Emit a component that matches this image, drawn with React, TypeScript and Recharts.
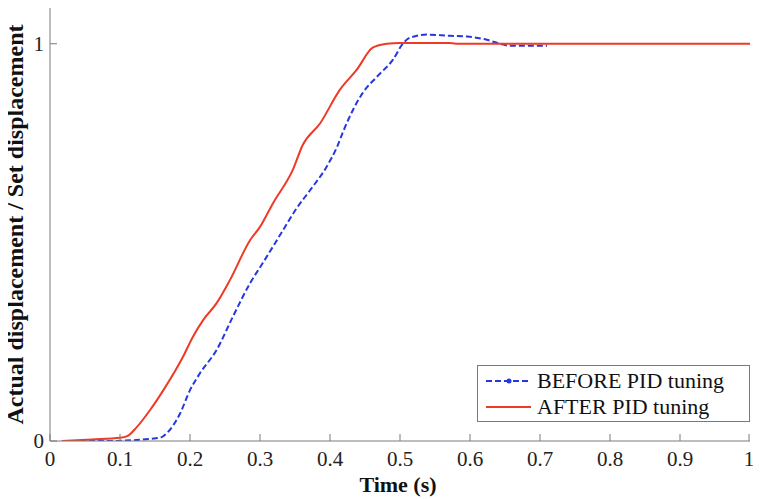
import { LineChart, Line, XAxis, YAxis } from 'recharts';

// time (s) / normalised displacement
const beforeTime = [0.017, 0.08, 0.157, 0.167, 0.186, 0.2, 0.214, 0.238, 0.261, 0.286, 0.304, 0.333, 0.352, 0.371, 0.395, 0.41, 0.419, 0.447, 0.467, 0.49, 0.504, 0.514, 0.538, 0.571, 0.596, 0.624, 0.643, 0.657, 0.71];
const beforeValue = [0, 0, 0.008, 0.02, 0.07, 0.128, 0.17, 0.229, 0.312, 0.398, 0.448, 0.531, 0.585, 0.63, 0.69, 0.74, 0.78, 0.877, 0.917, 0.96, 1.0, 1.015, 1.023, 1.02, 1.018, 1.01, 1.0, 0.995, 0.995];

const afterTime = [0.017, 0.06, 0.1, 0.111, 0.123, 0.143, 0.162, 0.19, 0.204, 0.219, 0.238, 0.257, 0.286, 0.3, 0.319, 0.347, 0.361, 0.386, 0.414, 0.438, 0.461, 0.481, 0.5, 0.57, 0.58, 1.0];
const afterValue = [0, 0.004, 0.008, 0.013, 0.033, 0.078, 0.128, 0.212, 0.262, 0.305, 0.347, 0.405, 0.506, 0.539, 0.6, 0.683, 0.745, 0.8, 0.884, 0.934, 0.99, 1.0, 1.002, 1.002, 1.0, 1.0];

const xTicks = [0, 0.1, 0.2, 0.3, 0.4, 0.5, 0.6, 0.7, 0.8, 0.9, 1];
const yTicks = [0, 1];

const BLUE = '#2438e0';
const RED = '#ee3a26';
const AXIS = '#7a7a7a';
const FONT = '"Liberation Serif", "Times New Roman", serif';

const beforeData = beforeTime.map((t, i) => ({ t, v: beforeValue[i] }));
const afterData = afterTime.map((t, i) => ({ t, v: afterValue[i] }));

const XTick = (props: any) => {
  const { x, y, payload } = props;
  return (
    <g>
      <line x1={x} y1={y} x2={x} y2={y - 7} stroke={AXIS} />
      <text x={x} y={y + 25} textAnchor="middle" fontSize={21} fontFamily={FONT} fill="#222">
        {String(payload.value)}
      </text>
    </g>
  );
};

const YTick = (props: any) => {
  const { x, y, payload } = props;
  return (
    <g>
      <line x1={x} y1={y} x2={x + 7} y2={y} stroke={AXIS} />
      <text x={x - 6} y={y + 7} textAnchor="end" fontSize={21} fontFamily={FONT} fill="#222">
        {String(payload.value)}
      </text>
    </g>
  );
};

// legend drawn as an overlay so it doesn't eat into the plot area
const LegendBox = () => (
  <div
    style={{
      position: 'absolute',
      left: 469,
      top: 357,
      width: 273,
      height: 57,
      border: `1px solid ${AXIS}`,
      background: '#fff',
      fontFamily: FONT,
      fontSize: 22,
      color: '#111',
      boxSizing: 'border-box',
      paddingTop: 2,
    }}
  >
    <div style={{ display: 'flex', alignItems: 'center', height: 26 }}>
      <svg width={59} height={12} style={{ flex: 'none' }}>
        <line x1={8} y1={6} x2={53} y2={6} stroke={BLUE} strokeWidth={2} strokeDasharray="6 3" />
        <circle cx={31} cy={6} r={2.5} fill={BLUE} />
      </svg>
      <span>BEFORE PID tuning</span>
    </div>
    <div style={{ display: 'flex', alignItems: 'center', height: 26 }}>
      <svg width={59} height={12} style={{ flex: 'none' }}>
        <line x1={8} y1={6} x2={53} y2={6} stroke={RED} strokeWidth={2} />
      </svg>
      <span>AFTER PID tuning</span>
    </div>
  </div>
);

export default function App() {
  return (
    <div style={{ background: '#fff', width: 745, height: 491, position: 'relative' }}>
      <style>{'.recharts-surface { overflow: visible; }'}</style>
      <LineChart width={745} height={491} margin={{ top: 0, right: 3, bottom: 0, left: 0 }}>
        <XAxis
          type="number"
          dataKey="t"
          domain={[0, 1]}
          ticks={xTicks}
          allowDataOverflow
          stroke={AXIS}
          tickLine={false}
          tickSize={0}
          tickMargin={0}
          height={58}
          tick={<XTick />}
          label={{
            content: (p: any) => (
              <text
                x={p.viewBox.x + p.viewBox.width / 2 - 2}
                y={p.viewBox.y + 51}
                textAnchor="middle"
                fontSize={22}
                fontWeight="bold"
                fontFamily={FONT}
                fill="#111"
              >
                Time (s)
              </text>
            ),
          }}
        />
        <YAxis
          type="number"
          domain={[0, 1.09]}
          ticks={yTicks}
          allowDataOverflow
          stroke={AXIS}
          tickLine={false}
          tickSize={0}
          tickMargin={0}
          width={42}
          tick={<YTick />}
          label={{
            content: (p: any) => {
              const cx = 15;
              const cy = p.viewBox.y + p.viewBox.height / 2;
              return (
                <text
                  x={cx}
                  y={cy}
                  transform={`rotate(-90 ${cx} ${cy})`}
                  textAnchor="middle"
                  fontSize={24}
                  fontWeight="bold"
                  fontFamily={FONT}
                  fill="#111"
                >
                  Actual displacement / Set displacement
                </text>
              );
            },
          }}
        />
        <Line
          data={beforeData}
          dataKey="v"
          name="BEFORE PID tuning"
          type="monotone"
          stroke={BLUE}
          strokeWidth={2}
          strokeDasharray="6 3"
          dot={false}
          isAnimationActive={false}
        />
        <Line
          data={afterData}
          dataKey="v"
          name="AFTER PID tuning"
          type="monotone"
          stroke={RED}
          strokeWidth={2}
          dot={false}
          isAnimationActive={false}
        />
      </LineChart>
      <LegendBox />
    </div>
  );
}
